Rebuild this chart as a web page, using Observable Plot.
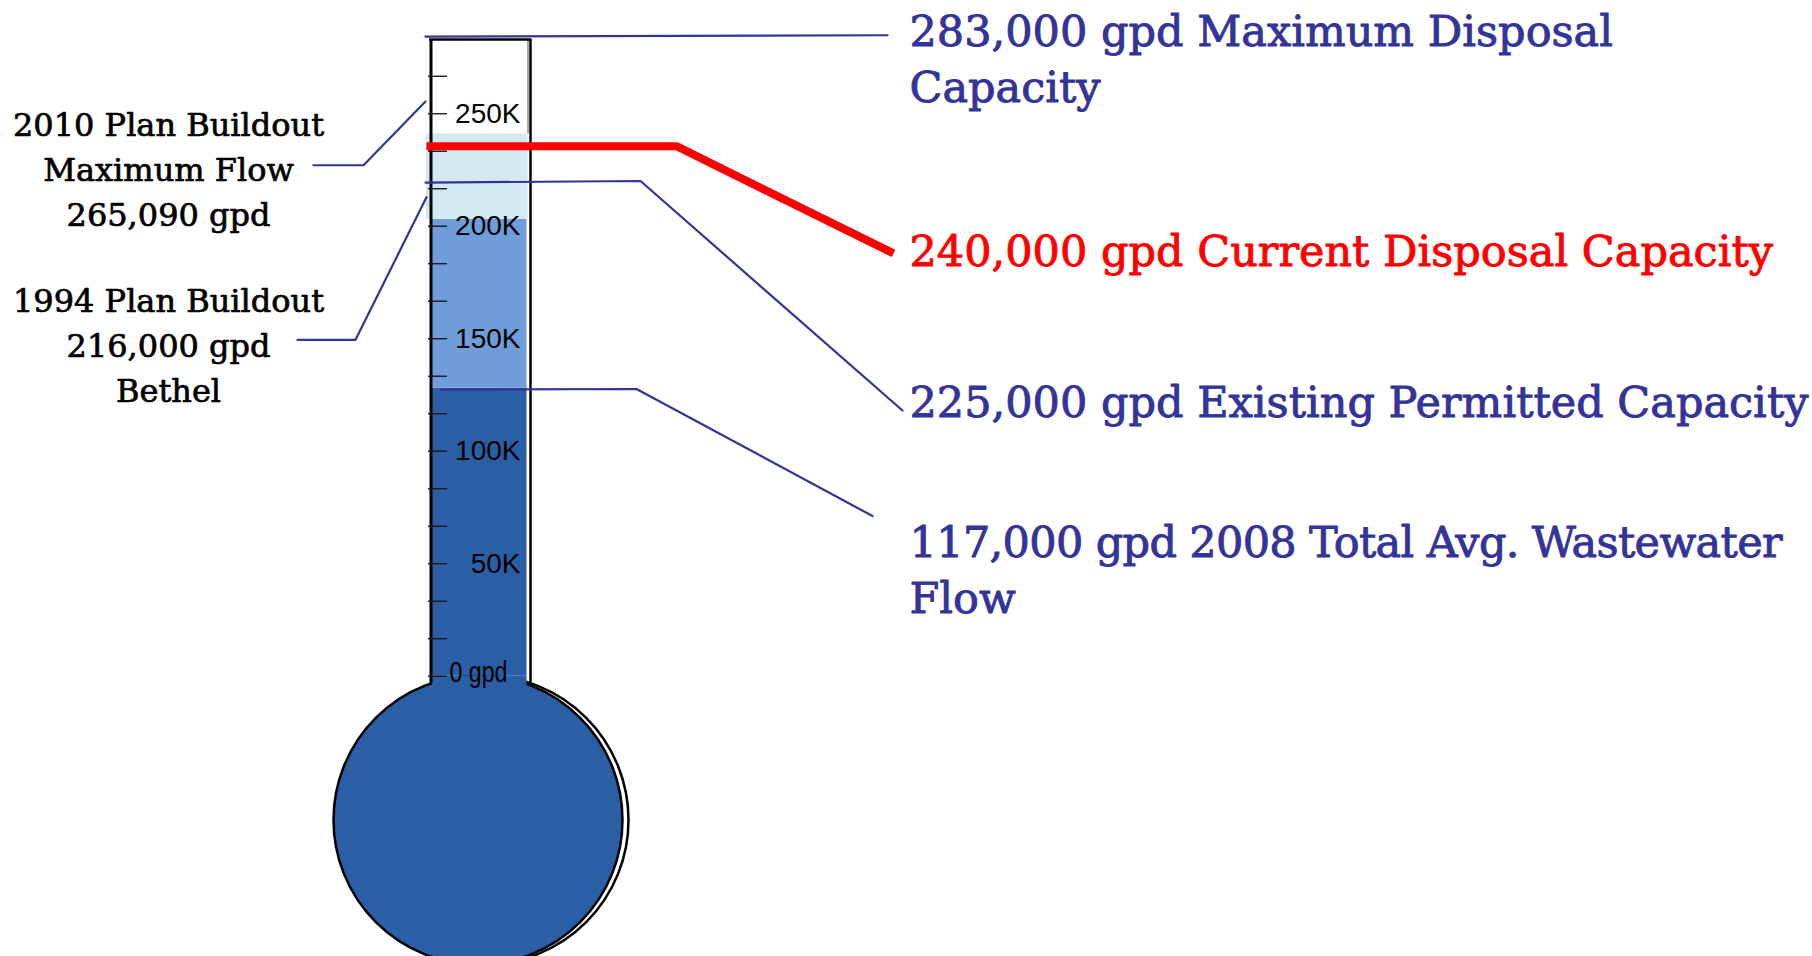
<!DOCTYPE html>
<html>
<head>
<meta charset="utf-8">
<script src="https://cdn.jsdelivr.net/npm/d3@7"></script>
<script src="https://cdn.jsdelivr.net/npm/@observablehq/plot@0.6"></script>
<style>
  html, body { margin: 0; padding: 0; background: #ffffff; overflow: hidden; }
  #chart svg { display: block; }
</style>
</head>
<body>
<div id="chart"></div>
<script>
// ---------------- DATA (in gallons per day) ----------------
const bandNames  = ["2008 Total Avg. Wastewater Flow", "1994 Plan Buildout", "2010 Plan Buildout"];
const bandFrom   = [0, 128000, 203000];
const bandTo     = [128000, 203000, 241000];
const tubeTop    = 283000;

const majorTicks      = [0, 50000, 100000, 150000, 200000, 250000];
const majorTickLabels = ["0 gpd", "50K", "100K", "150K", "200K", "250K"];
const minorTicks      = [0, 16667, 33333, 50000, 66667, 83333, 100000, 116667, 133333,
                         150000, 166667, 183333, 200000, 216667, 233333, 250000, 266667];

const rightLabels = [
  "283,000 gpd Maximum Disposal\nCapacity",
  "240,000 gpd Current Disposal Capacity",
  "225,000 gpd Existing Permitted Capacity",
  "117,000 gpd 2008 Total Avg. Wastewater\nFlow"
];
const leftLabels = [
  "2010 Plan Buildout\nMaximum Flow\n265,090 gpd",
  "1994 Plan Buildout\n216,000 gpd\nBethel"
];

// ---------------- LAYOUT / STYLE (kept apart from the data) ----------------
const bandColors = ["#2A5EA5", "#6F9DDA", "#D3EAF0"];
const navy = "#333399";
const red = "#FF0000";
const bulbCenterY = -63900;         // bulb centre on the gpd axis (below zero)
const neckBottomY = -40000;         // where the tube fill merges into the bulb

// label anchors (x in page units, y on the gpd axis = baseline of last line)
const rightLabelY = [255100, 182500, 115100, 27900];
const leftLabelY  = [199900, 121800];

// leader lines (x in page units, y on the gpd axis)
const leaders = [
  {id: "max",   pts: [[425, 284300], [887, 284900]]},
  {id: "exist", pts: [[425, 219400], [640, 220100], [902, 118100]]},
  {id: "avg",   pts: [[441, 127400], [636, 127650], [872, 71200]]},
  {id: "p2010", pts: [[313, 227100], [363, 227100], [425, 255400]]},
  {id: "p1994", pts: [[297, 149500], [355, 149500], [426, 212900]]}
];
const redLeader = [[426, 235600], [676, 235600], [893, 187900]];

// ---------------- TABLES FOR PLOT ----------------
const bands = bandNames.map((name, i) => ({name, from: bandFrom[i], to: bandTo[i]}));
const tickTable = majorTicks.map((v, i) => ({v, label: majorTickLabels[i]}));
const rightTable = rightLabels.map((label, i) => ({label, y: rightLabelY[i]}));
const leftTable = leftLabels.map((label, i) => ({label, y: leftLabelY[i]}));
const leaderPts = leaders.flatMap(l => l.pts.map(([x, y]) => ({id: l.id, x, y})));
const redPts = redLeader.map(([x, y]) => ({x, y}));

const serif = "'DejaVu Serif', 'Liberation Serif', serif";
const sans = "'Liberation Sans', Arial, sans-serif";

const chart = Plot.plot({
  width: 1812,
  height: 956,
  margin: 0,
  style: {background: "white"},
  x: {domain: [0, 1812], axis: null},
  y: {domain: [-124600, 300340], axis: null},
  color: {domain: bandNames, range: bandColors},
  marks: [
    // bulb (shadow outline + body)
    Plot.dot([bulbCenterY], {x: 483.5, y: d => d, r: 144.5, fill: "white", stroke: "black", strokeWidth: 2.5}),
    Plot.dot([bulbCenterY], {x: 477.5, y: d => d, r: 144.5, fill: bandColors[0], stroke: "black", strokeWidth: 2.5}),
    // neck fill joining tube to bulb
    Plot.rect([0], {x1: 432, x2: 526.5, y1: neckBottomY, y2: d => d, fill: bandColors[0]}),
    // glass highlight on right edge above the liquid
    Plot.ruleX([527.5], {y1: bandTo[2], y2: tubeTop, stroke: "#8a8a8a", strokeWidth: 1.5}),
    // liquid bands
    Plot.rect(bands.slice(0, 2), {x1: 432, x2: 526.5, y1: "from", y2: "to", fill: "name"}),
    Plot.rect(bands.slice(2), {x1: 426, x2: 527.5, y1: "from", y2: "to", fill: "name"}),
    // tube outline
    Plot.ruleX([430.5], {y1: -3300, y2: tubeTop, stroke: "black", strokeWidth: 3}),
    Plot.ruleX([530], {y1: -3300, y2: tubeTop, stroke: "black", strokeWidth: 2.5}),
    Plot.ruleY([tubeTop], {x1: 429, x2: 531.3, stroke: "black", strokeWidth: 2.5}),
    // ticks
    Plot.ruleY(minorTicks, {x1: 428, x2: 447, stroke: "#1a1a1a", strokeWidth: 1.4}),
    // tick labels
    Plot.text(tickTable.filter(d => d.v > 0), {
      x: 520, y: "v", text: "label", textAnchor: "end", lineAnchor: "middle",
      fontFamily: sans, fontSize: 28, fill: "black"
    }),
    Plot.text(tickTable.filter(d => d.v === 0), {
      x: 507, y: "v", dy: -3, text: "label", textAnchor: "end", lineAnchor: "middle",
      fontFamily: sans, fontSize: 29, fill: "black"
    }),
    // leader lines
    Plot.line(leaderPts, {x: "x", y: "y", z: "id", stroke: navy, strokeWidth: 2.2, curve: "linear"}),
    Plot.line(redPts, {x: "x", y: "y", stroke: red, strokeWidth: 8, strokeLinejoin: "miter", strokeLinecap: "butt"}),
    // right labels
    Plot.text(rightTable.filter((d, i) => i !== 1), {
      x: 909, y: "y", text: "label", textAnchor: "start", lineAnchor: "bottom",
      fontFamily: serif, fontSize: 43, lineHeight: 1.318, fill: navy,
      stroke: navy, strokeWidth: 0.9
    }),
    Plot.text(rightTable.filter((d, i) => i === 1), {
      x: 909, y: "y", text: "label", textAnchor: "start", lineAnchor: "bottom",
      fontFamily: serif, fontSize: 43, lineHeight: 1.318, fill: red,
      stroke: red, strokeWidth: 0.9
    }),
    // left labels
    Plot.text(leftTable, {
      x: 168, y: "y", text: "label", textAnchor: "middle", lineAnchor: "bottom",
      fontFamily: serif, fontSize: 32, lineHeight: 1.406, fill: "black",
      stroke: "black", strokeWidth: 0.7
    })
  ]
});

document.getElementById("chart").appendChild(chart);

// squeeze the "0 gpd" label as in the original
d3.select(chart).selectAll("text").filter(function() { return this.textContent === "0 gpd"; })
  .attr("textLength", 58).attr("lengthAdjust", "spacingAndGlyphs");
// the original's first line of the flow label is a little tighter
d3.select(chart).selectAll("tspan").filter(function() { return this.textContent === "117,000 gpd 2008 Total Avg. Wastewater"; })
  .attr("textLength", 873).attr("lengthAdjust", "spacing");
</script>
</body>
</html>
